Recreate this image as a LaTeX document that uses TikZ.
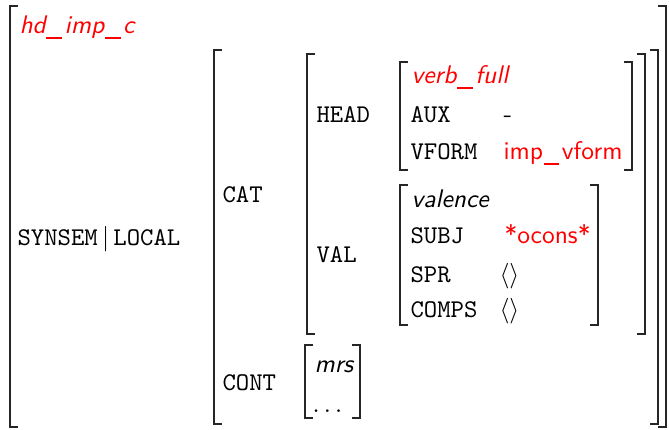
\documentclass[tikz,border=0pt]{standalone}
\newcommand\us{\kern0.02em\rule[-0.25em]{0.62em}{0.075em}\kern0.1em}
\newcommand\avmbox[4]{%
  \draw[br] ({#1+8},#3) -- (#1,#3) -- (#1,#4) -- ({#1+8},#4);
  \draw[br] ({#2-8},#3) -- (#2,#3) -- (#2,#4) -- ({#2-8},#4);}
\tikzset{
  br/.style={line width=1.8pt, draw=black!85, line cap=butt, line join=miter},
  txt/.style={anchor=base west, inner sep=0pt, scale=2.55, transform shape},
  attr/.style={txt, font=\ttfamily},
  typ/.style={txt, font=\sffamily\itshape},
  redtyp/.style={typ, text=red},
  val/.style={txt, font=\sffamily},
  redval/.style={val, text=red},
}
\begin{document}
\begin{tikzpicture}[x=1pt,y=-1pt]
\useasboundingbox (0,0) rectangle (669,429);
% brackets
\avmbox{10}{666}{6}{427}
\avmbox{214}{658}{50}{424}
\avmbox{307}{645}{54}{334}
\avmbox{400}{632}{62}{170}
\avmbox{400}{598}{185}{325}
\avmbox{305}{360}{345}{418}
% outer
\node[redtyp] (t1) at (19,33) {hd\us imp\us c};
\node[attr] (a1) at (17,245) {SYNSEM$\,|\,$LOCAL};
% cat/cont
\node[attr] (a2) at (222,202) {CAT};
\node[attr] (a3) at (222,390) {CONT};
% head/val
\node[attr] (a4) at (316,122) {HEAD};
\node[attr] (a5) at (316,262) {VAL};
% head
\node[redtyp] (t2) at (411,83) {verb\us full};
\node[attr] (a6) at (410,122) {AUX};
\node[val] (v1) at (503,122) {-};
\node[attr] (a7) at (410,159) {VFORM};
\node[redval] (v2) at (503,159) {imp\us vform};
% valence
\node[typ] (t3) at (411,207) {valence};
\node[attr] (a8) at (410,243) {SUBJ};
\node[redval] (v3) at (504,243) {*ocons*};
\node[attr] (a9) at (410,282) {SPR};
\node[val] (v4) at (499,282) {$\langle\rangle$};
\node[attr] (a10) at (410,317) {COMPS};
\node[val] (v5) at (499,317) {$\langle\rangle$};
% cont
\node[typ] (t4) at (314,372) {mrs};
\node[val] (v6) at (312,412) {$\ldots$};
\end{tikzpicture}
\end{document}
